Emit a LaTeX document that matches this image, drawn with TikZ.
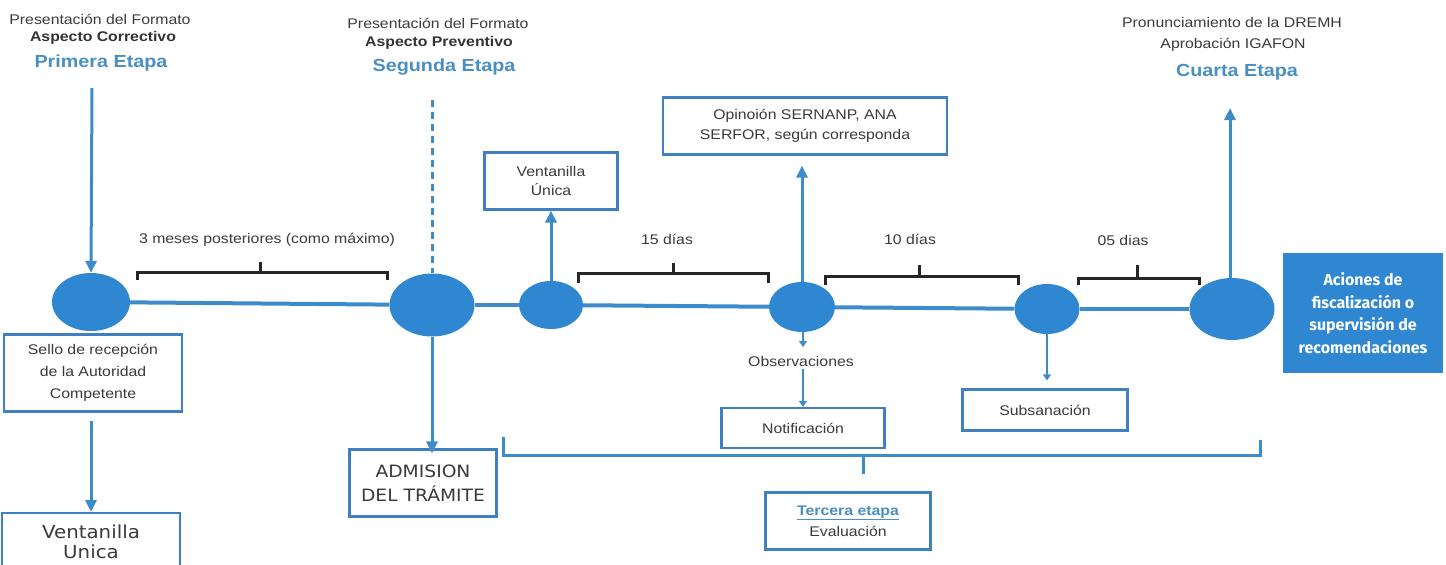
\documentclass[tikz,border=0pt]{standalone}
\usepackage{fontspec}
\setmainfont{Liberation Sans}[FakeStretch=1.13]
\newfontfamily\dvs{DejaVu Sans}[FakeStretch=1.1]
\newfontfamily\fira{Fira Sans}
\usetikzlibrary{shapes.geometric,arrows.meta}
\definecolor{eblue}{HTML}{2F87D2}
\definecolor{bblue}{HTML}{3F80C2}
\definecolor{lblue}{HTML}{3C8CCB}
\definecolor{tblue}{HTML}{4A8FC2}
\definecolor{txt}{HTML}{3A3A3A}
\tikzset{
  ell/.style={ellipse, fill=eblue, draw=none, inner sep=0pt},
  bx/.style={draw=bblue, line width=2.2pt, fill=white, align=center, text=txt, inner sep=0pt},
  conn/.style={draw=lblue, line width=3pt},
  mainln/.style={draw=lblue, line width=4pt},
  arr/.style={conn, -{Triangle[length=12pt,width=11pt]}},
  sarr/.style={draw=lblue, line width=2pt, -{Triangle[length=6pt,width=8pt]}},
  brk/.style={draw=black!85, line width=3pt},
  lbl/.style={text=txt, font=\fontsize{14}{16}\selectfont, inner sep=0pt},
  ttl/.style={text=tblue, font=\fontsize{17.5}{20}\selectfont\bfseries, inner sep=0pt},
}
\begin{document}
\begin{tikzpicture}[x=1pt,y=-1pt]
\useasboundingbox (0,0) rectangle (1446,565);

% top texts
\node[lbl] (t1a) at (100,19) {Presentación del Formato};
\node[lbl,font=\fontsize{14}{16}\selectfont\bfseries,text=black!80] (t1b) at (103,38) {Aspecto Correctivo};
\node[ttl] (t1c) at (101,63) {Primera Etapa};
\node[lbl] (t2a) at (438,23) {Presentación del Formato};
\node[lbl,font=\fontsize{14}{16}\selectfont\bfseries,text=black!80] (t2b) at (439,43) {Aspecto Preventivo};
\node[ttl] (t2c) at (444,67) {Segunda Etapa};
\node[lbl] (t4a) at (1232,22) {Pronunciamiento de la DREMH};
\node[lbl] (t4b) at (1233,45) {Aprobación IGAFON};
\node[ttl] (t4c) at (1237,72) {Cuarta Etapa};

% ellipses
\node[ell, minimum width=78pt, minimum height=58pt] (E1) at (91,302) {};
\node[ell, minimum width=85pt, minimum height=63pt] (E2) at (432,305) {};
\node[ell, minimum width=64pt, minimum height=48pt] (E3) at (551,305) {};
\node[ell, minimum width=66pt, minimum height=50pt] (E4) at (802,307) {};
\node[ell, minimum width=65pt, minimum height=50pt] (E5) at (1047,309) {};
\node[ell, minimum width=85pt, minimum height=62pt] (E6) at (1232,309) {};

% main line
\draw[mainln] (E1) -- (E2);
\draw[mainln] (E2) -- (E3);
\draw[mainln] (E3) -- (E4);
\draw[mainln] (E4) -- (E5);
\draw[mainln] (E5) -- (E6);

% boxes
\node[bx, minimum width=178pt, minimum height=77pt, font=\fontsize{14}{22}\selectfont] (sello) at (93,373) {Sello de recepción\\de la Autoridad\\Competente};
\node[bx, minimum width=178pt, minimum height=62pt, font=\dvs\fontsize{18}{20}\selectfont, anchor=north] (vu1) at (91,512) {\raisebox{11pt}{\begin{tabular}{@{}c@{}}Ventanilla\\Unica\end{tabular}}};
\node[bx, minimum width=147pt, minimum height=67pt, font=\dvs\fontsize{17}{24}\selectfont] (adm) at (423,483) {ADMISION\\DEL TRÁMITE};
\node[bx, minimum width=133pt, minimum height=57pt, font=\fontsize{14}{19}\selectfont] (vu2) at (551,181) {Ventanilla\\Única};
\node[bx, minimum width=284pt, minimum height=57pt, font=\fontsize{14}{20}\selectfont] (opi) at (805,126) {Opinoión SERNANP, ANA\\SERFOR, según corresponda};
\node[bx, minimum width=163pt, minimum height=40pt, font=\fontsize{14}{16}\selectfont] (noti) at (803,428) {Notificación};
\node[bx, minimum width=165pt, minimum height=41pt, font=\fontsize{14}{16}\selectfont] (subs) at (1045,410) {Subsanación};
\node[bx, minimum width=165pt, minimum height=57pt, font=\fontsize{14}{21}\selectfont] (terc) at (848,521) {{\color{tblue}\bfseries\underline{Tercera etapa}}\\Evaluación};
\node[fill=eblue, minimum width=160pt, minimum height=120pt, align=center, text=white, inner sep=0pt, font=\fira\bfseries\fontsize{16}{22.5}\selectfont] (acc) at (1363,313) {Aciones de\\fiscalización o\\supervisión de\\recomendaciones};

% labels
\node[lbl] (obs) at (801,361) {Observaciones};
\node[lbl] (m3) at (267,240) {3 meses posteriores (como máximo)};
\node[lbl] (d15) at (667,239) {15 días};
\node[lbl] (d10) at (910,239) {10 días};
\node[lbl] (d05) at (1123,240) {05 dias};

% free ends
\coordinate (c1) at (92,88);
\coordinate (c2) at (432,100);
\coordinate (c9) at (1230,108);
\coordinate (c7) at (803,347);

% arrows
\draw[arr] (c1) -- (E1.north);
\draw[conn, dashed, dash pattern=on 7pt off 5pt] (c2) -- (E2.north);
\draw[arr] (sello.south -| vu1.north) ++(0,8) -- (vu1.north);
\draw[arr] (E2.south) -- ([yshift=-5pt]adm.north -| E2.south);
\draw[arr] (E3.north) -- (vu2.south);
\draw[arr, shorten >=10pt] (E4.north) -- (opi.south -| E4.north);
\draw[sarr] (E4.south -| c7) -- (c7);
\draw[sarr] (obs.south -| noti.north) ++(0,3) -- (noti.north);
\draw[sarr, shorten >=8pt] (E5.south) -- (subs.north -| E5.south);
\draw[arr] (E6.north -| c9) -- (c9);

% brackets
\draw[brk] (137,280) -- (137,272) -- (387,272) -- (387,280);
\draw[brk] (260,272) -- (260,262);
\draw[brk] (578,283) -- (578,273) -- (768,273) -- (768,283);
\draw[brk] (673,273) -- (673,263);
\draw[brk] (825,285) -- (825,276) -- (1018,276) -- (1018,285);
\draw[brk] (919,276) -- (919,265);
\draw[brk] (1078,285) -- (1078,278) -- (1199,278) -- (1199,285);
\draw[brk] (1137,278) -- (1137,265);

% bottom bracket
\draw[conn] (503,437) -- (503,455) -- (1260,455) -- (1260,440);
\draw[conn] (863,455) -- (863,474);
\end{tikzpicture}
\end{document}
